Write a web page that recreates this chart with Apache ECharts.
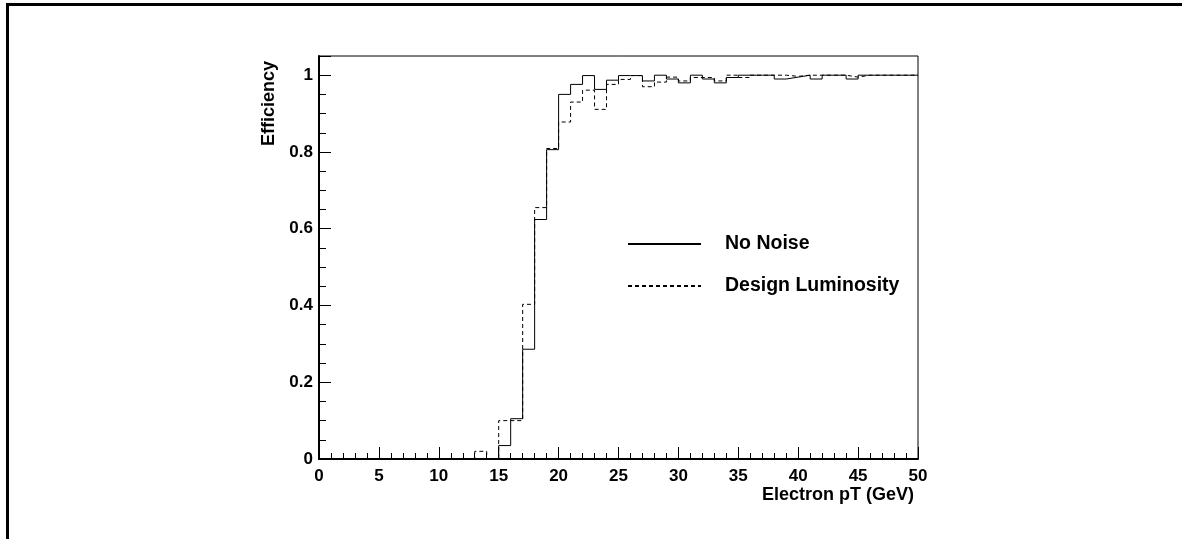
<!DOCTYPE html>
<html>
<head>
    <meta charset="UTF-8">
    <title>Efficiency vs Electron pT</title>
    <script src="https://cdn.jsdelivr.net/npm/echarts@6/dist/echarts.min.js"></script>
    <style>
        html, body { margin: 0; padding: 0; background: #fff; }
        #main { width: 1182px; height: 539px; }
    </style>
</head>
<body>
    <div id="main"></div>
    <script>
        // bin edges (GeV), 1 GeV bins from 0 to 50
        var binEdges = [0, 1, 2, 3, 4, 5, 6, 7, 8, 9, 10, 11, 12, 13, 14, 15, 16, 17, 18, 19, 20,
            21, 22, 23, 24, 25, 26, 27, 28, 29, 30, 31, 32, 33, 34, 35, 36, 37, 38, 39, 40,
            41, 42, 43, 44, 45, 46, 47, 48, 49, 50];

        // efficiency per bin
        var noNoise = [0, 0, 0, 0, 0, 0, 0, 0, 0, 0, 0, 0, 0, 0, 0,
            0.035, 0.105, 0.286, 0.624, 0.806, 0.950, 0.976, 0.999, 0.963, 0.987,
            0.999, 0.999, 0.985, 1.0, 0.99, 0.98, 1.0, 0.99, 0.98, 0.994,
            1.0, 1.0, 1.0, 0.99, 0.995, 1.0, 0.99, 1.0, 1.0, 0.99,
            1.0, 1.0, 1.0, 1.0, 1.0];
        var designLumi = [0, 0, 0, 0, 0, 0, 0, 0, 0, 0, 0, 0, 0, 0.02, 0,
            0.10, 0.10, 0.403, 0.655, 0.809, 0.878, 0.930, 0.961, 0.911, 0.976,
            0.989, 0.999, 0.970, 0.982, 0.995, 0.985, 0.994, 0.994, 0.985, 1.0,
            0.994, 1.0, 1.0, 1.0, 0.997, 1.0, 1.0, 1.0, 1.0, 0.995,
            1.0, 1.0, 1.0, 1.0, 1.0];

        var xTicks = { min: 0, max: 50, interval: 5 };
        var yTicks = { min: 0, max: 1.05, interval: 0.2 };

        // histogram as step line: one point per low edge, plus the last high edge
        function toSteps(vals) {
            var res = [];
            for (var i = 0; i < vals.length; i++) {
                res.push([binEdges[i], vals[i]]);
            }
            res.push([binEdges[vals.length], vals[vals.length - 1]]);
            return res;
        }

        var font = '"Liberation Sans", Arial, Helvetica, sans-serif';
        var chart = echarts.init(document.getElementById('main'));

        var option = {
            animation: false,
            backgroundColor: '#fff',
            grid: {
                left: 319, right: 264, top: 56, bottom: 80,
                show: true, borderColor: '#000', borderWidth: 1
            },
            legend: {
                orient: 'vertical',
                left: 627, top: 234,
                padding: 0,
                itemWidth: 73, itemHeight: 14, itemGap: 22,
                itemStyle: { opacity: 0 },
                textStyle: {
                    color: '#000', fontSize: 19.5, fontWeight: 'bold', fontFamily: font,
                    padding: [0, 0, 0, 19]
                },
                data: ['No Noise', 'Design Luminosity']
            },
            xAxis: {
                type: 'value',
                min: xTicks.min, max: xTicks.max, interval: xTicks.interval,
                name: 'Electron pT (GeV)',
                nameLocation: 'end',
                nameGap: -4,
                nameTextStyle: {
                    color: '#000', fontSize: 18, fontWeight: 'bold', fontFamily: font,
                    align: 'right', verticalAlign: 'top', padding: [27, 0, 0, 0]
                },
                splitLine: { show: false },
                axisLine: { lineStyle: { color: '#000', width: 2 } },
                axisTick: { inside: true, length: 12, lineStyle: { color: '#000', width: 1 } },
                minorTick: { show: true, splitNumber: 5, length: 6, lineStyle: { color: '#000', width: 1 } },
                axisLabel: {
                    color: '#000', fontSize: 17, fontWeight: 'bold', fontFamily: font, margin: 9
                }
            },
            yAxis: {
                type: 'value',
                min: yTicks.min, max: yTicks.max, interval: yTicks.interval,
                splitLine: { show: false },
                axisLine: { lineStyle: { color: '#000', width: 2 } },
                axisTick: { inside: true, length: 12, lineStyle: { color: '#000', width: 1 } },
                minorTick: { show: true, splitNumber: 4, length: 7, lineStyle: { color: '#000', width: 1 } },
                axisLabel: {
                    color: '#000', fontSize: 17, fontWeight: 'bold', fontFamily: font, margin: 6,
                    showMaxLabel: false
                }
            },
            graphic: [
                {
                    type: 'rect',
                    shape: { x: 7.5, y: 4.5, width: 1400, height: 800 },
                    style: { fill: 'none', stroke: '#000', lineWidth: 3 },
                    silent: true
                },
                {
                    type: 'text',
                    x: 269, y: 61,
                    rotation: Math.PI / 2,
                    style: {
                        text: 'Efficiency',
                        fill: '#000',
                        font: 'bold 18px ' + font,
                        align: 'right',
                        verticalAlign: 'middle'
                    },
                    silent: true
                }
            ],
            series: [
                {
                    name: 'No Noise',
                    type: 'line',
                    step: 'end',
                    symbol: 'none',
                    color: '#000',
                    lineStyle: { color: '#000', width: 1 },
                    data: toSteps(noNoise)
                },
                {
                    name: 'Design Luminosity',
                    type: 'line',
                    step: 'end',
                    symbol: 'none',
                    color: '#000',
                    lineStyle: { color: '#000', width: 1, type: [4, 3] },
                    data: toSteps(designLumi)
                }
            ]
        };
        chart.setOption(option);
    </script>
</body>
</html>
